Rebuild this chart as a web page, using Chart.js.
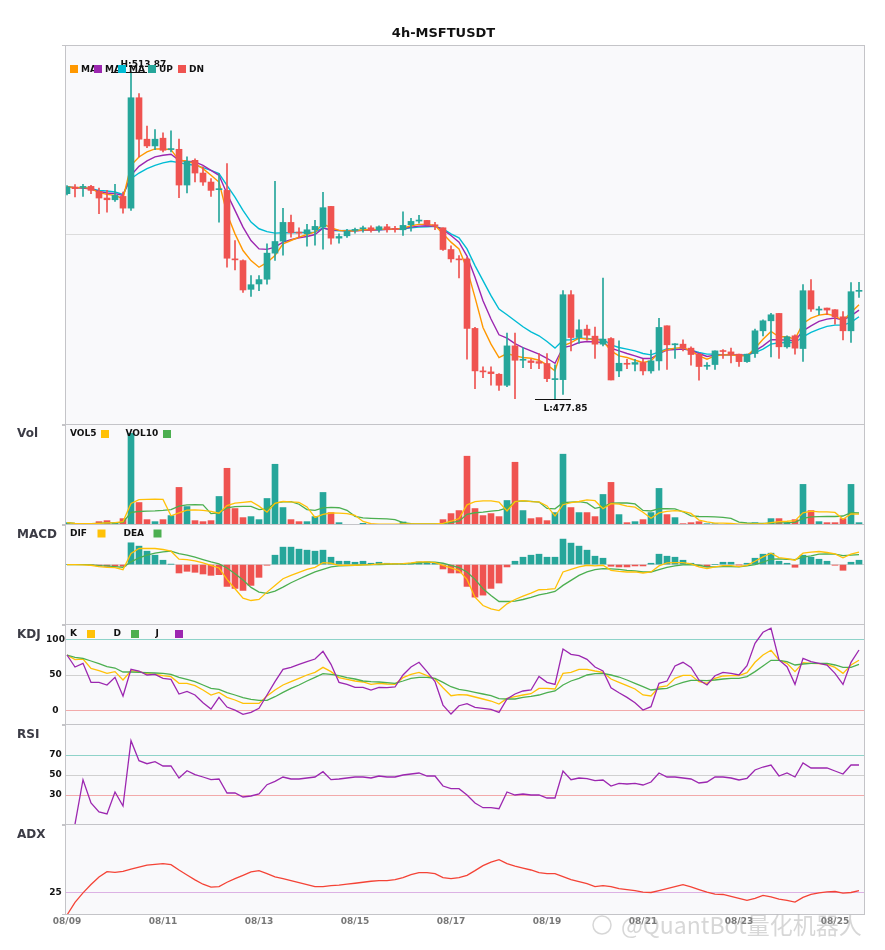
<!DOCTYPE html>
<html><head><meta charset="utf-8">
<script src="https://cdn.jsdelivr.net/npm/chart.js@4.4.1/dist/chart.umd.min.js"></script>
<style>
html,body{margin:0;padding:0;background:#fff;}
#wrap{position:relative;width:885px;height:950px;overflow:hidden;background:#fff;}
#wrap canvas{position:absolute;left:0;}
</style></head><body><div id="wrap"></div>
<script>
// ---------------- DATA ----------------
const xTickIndex = [0,12,24,36,48,60,72,84,96];
const xTickLabels = ['08/09','08/11','08/13','08/15','08/17','08/19','08/21','08/23','08/25'];

const open = [500.46,501.19,501.15,501.26,500.71,499.98,499.79,500.16,498.87,511.01,
506.45,505.71,506.56,505.31,505.34,501.41,504.13,502.73,501.74,500.90,
500.82,493.29,493.10,489.94,490.53,491.05,493.92,495.24,497.30,496.23,
496.05,496.49,496.78,499.06,495.57,495.83,496.42,496.60,496.71,496.49,
496.82,496.60,496.49,497.04,497.45,497.52,497.04,496.71,494.32,493.29,
493.28,485.64,480.97,480.86,480.60,479.39,483.72,482.14,482.07,481.99,
481.78,480.01,480.01,489.35,484.64,485.56,484.79,483.91,484.53,480.97,
481.81,481.70,481.89,480.97,482.07,485.93,483.84,483.91,483.47,482.81,
481.48,481.67,483.21,483.06,482.81,481.99,482.88,485.38,486.48,487.29,
483.62,484.83,483.43,489.79,487.66,487.88,487.70,486.92,485.38,489.72];
const high = [501.34,501.45,501.48,501.37,501.08,500.82,501.48,500.64,513.87,511.48,
507.88,507.51,507.15,507.37,506.45,504.50,504.28,503.40,502.11,502.66,
503.76,495.31,493.18,491.45,491.45,494.95,501.82,498.84,498.11,496.71,
497.08,497.52,500.61,499.06,496.05,496.53,496.67,496.89,496.93,496.93,
497.08,496.86,498.47,497.74,498.07,497.52,497.30,496.71,494.73,493.66,
493.47,485.75,481.41,481.41,480.67,485.12,485.12,483.54,482.25,482.88,
482.88,481.63,489.79,489.79,486.59,486.00,485.78,491.19,484.64,484.27,
482.25,482.25,482.25,483.25,486.74,485.93,483.98,484.39,483.62,482.88,
481.89,483.17,483.32,483.47,482.81,482.81,485.56,486.59,487.29,487.29,
484.83,484.94,490.45,491.00,488.03,487.88,487.70,487.48,490.67,490.71];
const low = [500.31,500.09,500.16,500.46,498.25,498.43,499.61,498.32,498.62,504.50,
505.53,505.31,505.05,505.05,500.01,500.53,501.74,501.37,500.16,497.33,
492.37,492.07,489.61,489.17,489.79,490.50,493.11,493.70,495.68,495.61,
494.69,494.80,494.36,494.91,495.02,495.64,496.12,496.23,496.23,496.23,
496.23,496.23,495.86,496.34,497.22,496.97,496.49,494.21,492.92,491.20,
482.25,479.02,480.23,479.39,478.83,479.24,477.92,481.33,481.22,481.22,
479.79,477.85,478.39,483.17,483.98,484.35,482.33,483.72,479.97,480.34,
481.22,480.97,480.53,480.71,481.04,481.12,482.33,483.17,481.59,479.94,
481.12,481.12,482.33,481.85,481.45,481.89,482.44,484.83,482.51,482.33,
483.47,482.81,482.00,487.51,487.14,487.14,486.11,484.39,484.09,489.06];
const close = [501.19,501.01,501.19,500.82,499.98,499.79,500.27,498.87,511.01,506.45,
505.71,506.45,505.23,505.42,501.41,504.02,502.73,501.74,500.82,500.97,
493.36,493.18,489.87,490.45,491.01,493.92,495.20,497.30,496.16,496.12,
496.49,496.86,498.92,495.57,495.75,496.31,496.49,496.71,496.42,496.82,
496.49,496.53,496.97,497.41,497.52,497.04,496.89,494.32,493.29,493.18,
485.64,480.97,480.86,480.67,479.39,483.72,482.14,482.25,481.89,481.81,
480.12,480.12,489.35,484.64,485.49,484.90,483.91,484.46,479.97,481.81,
481.70,481.89,480.97,482.07,485.75,483.84,483.91,483.47,482.77,481.45,
481.59,483.17,483.10,482.77,481.99,482.81,485.38,486.48,487.14,483.62,
484.72,483.47,489.79,487.77,487.77,487.66,486.92,485.38,489.68,489.79];

const ma1 = [501.19,501.12,501.15,501.01,500.57,500.38,500.27,499.90,503.58,504.50,
505.05,505.38,505.38,505.31,504.13,504.02,503.76,503.21,502.48,501.74,
498.25,496.04,494.21,493.10,492.37,492.90,493.66,494.95,495.31,495.68,
495.97,496.23,497.15,496.71,496.42,496.34,496.38,496.49,496.49,496.53,
496.56,496.56,496.67,496.93,497.08,497.08,496.97,496.05,495.13,494.39,
492.20,489.05,485.75,483.91,482.44,482.88,482.62,482.44,482.36,482.14,
481.63,480.97,483.72,484.09,484.57,484.46,484.46,484.27,483.17,482.62,
482.44,482.14,481.89,482.07,482.99,483.30,483.47,483.54,483.17,482.62,
482.26,482.62,482.73,482.73,482.62,482.62,483.47,484.46,485.31,484.72,
484.72,484.46,486.19,486.78,487.11,487.22,487.03,486.48,487.40,488.25];
const ma2 = [501.19,501.12,501.08,500.97,500.71,500.53,500.46,500.27,502.48,503.47,
504.06,504.50,504.68,504.79,504.13,504.02,503.95,503.58,503.03,502.48,
500.46,498.62,496.78,495.31,494.39,494.33,494.58,495.13,495.39,495.61,
495.75,495.97,496.67,496.49,496.42,496.34,496.34,496.42,496.42,496.49,
496.53,496.56,496.60,496.78,496.89,496.93,496.89,496.49,495.86,495.13,
493.60,491.26,488.69,486.67,484.94,484.57,483.98,483.54,483.17,482.81,
482.36,481.81,483.54,483.72,484.09,484.20,484.16,484.09,483.47,483.17,
482.88,482.62,482.33,482.33,482.88,483.25,483.32,483.36,483.25,482.88,
482.55,482.70,482.73,482.73,482.70,482.70,483.17,483.73,484.39,484.39,
484.35,484.28,485.38,485.93,486.41,486.67,486.78,486.56,487.03,487.66];
const ma3 = [501.19,501.12,501.08,501.01,500.82,500.75,500.64,500.38,502.11,502.73,
503.21,503.58,503.84,504.02,503.87,503.69,503.58,503.32,503.03,502.66,
501.37,500.09,498.62,497.33,496.60,496.28,496.12,496.16,496.16,496.19,
496.19,496.23,496.71,496.42,496.38,496.42,496.42,496.45,496.49,496.49,
496.53,496.56,496.60,496.71,496.78,496.82,496.86,496.60,496.05,495.61,
494.39,492.55,490.89,489.24,487.77,487.14,486.48,485.82,485.27,484.83,
484.20,483.47,484.35,484.39,484.57,484.53,484.46,484.42,483.83,483.54,
483.36,483.17,482.88,482.73,483.06,483.40,483.36,483.36,483.25,482.99,
482.81,482.81,482.73,482.73,482.70,482.70,482.99,483.36,483.91,484.06,
484.09,484.09,484.72,485.20,485.56,485.86,486.00,486.00,486.30,486.92];

const volume = [7,3,2,3,10,13,6,19,273,67,
16,10,16,28,112,55,13,10,13,85,
169,49,22,25,16,79,181,52,16,10,
10,25,97,37,7,2,2,5,3,2,
2,2,9,3,2,2,2,16,34,43,
205,49,28,34,25,73,187,43,19,22,
13,37,211,52,37,37,25,91,127,31,
7,10,16,37,109,31,22,4,7,10,
4,4,2,2,2,2,7,4,19,19,
7,16,121,43,10,7,7,19,121,7];
const vol5 = [7,5,4,3.8,5,6.2,6.8,10.2,64.2,75.6,
76.2,77,76.4,27.4,36.4,44.2,44.8,43.6,40.6,35.2,
58,65.2,67.6,70,56.2,38.2,64.6,70.6,68.8,67.6,
53.8,22.6,31.6,35.8,35.2,33.6,29,10.6,3.8,2.8,
2.8,2.8,3.6,3.6,3.6,3.6,3.6,5,11.2,19.4,
60,69.4,71.8,71.8,68.2,41.8,69.4,72.4,69.4,68.8,
56.8,26.8,60.4,67,70,74.8,72.4,48.4,63.4,62.2,
56.2,53.2,38.2,20.2,35.8,40.6,43,40.6,34.6,14.8,
9.4,5.8,5.4,4.4,2.8,2.4,3,3.4,6.8,10.2,
11.2,13,36.4,41.2,39.4,39.4,37.6,17.2,32.8,32.2];
const vol10 = [7,5,4,3.8,5,6.3,6.3,7.9,37.3,40.3,
41.2,41.9,43.3,45.8,56,60.2,60.9,60,34,35.8,
51.1,55,55.6,55.3,45.7,48.1,64.9,69.1,69.4,61.9,
46,43.6,51.1,52.3,51.4,43.7,25.8,21.1,19.8,19,
18.2,15.9,7.1,3.7,3.2,3.2,3.2,4.3,7.4,11.5,
31.8,36.5,38.4,41.5,43.8,50.9,69.4,72.1,70.6,68.5,
49.3,48.1,66.4,68.2,69.4,65.8,49.6,54.4,65.2,66.1,
65.5,62.8,43.3,41.8,49,48.4,48.1,39.4,27.4,25.3,
25,24.4,23,19.5,8.8,5.9,4.4,4.4,5.6,6.5,
6.8,8,19.9,24,24.8,25.3,25.3,26.8,37,35.8];

const macdHist = [0,0,0,-1,-4,-5,-5,-5,65,55,
40,28,13,1,-25,-20,-23,-28,-32,-30,
-65,-71,-77,-62,-38,-2,28,52,52,46,
43,40,43,22,10,10,7,10,4,7,
4,3,3,4,8,8,5,-13,-25,-25,
-65,-97,-91,-71,-55,-7,10,22,28,31,
22,22,76,64,55,43,25,19,-5,-7,
-7,-4,-4,4,31,25,22,13,4,-4,
-7,0,7,7,-1,4,19,31,34,10,
4,-8,28,22,16,10,-2,-17,7,13];
const dif = [0,0,-1,-2,-6,-8,-9,-15,33,48,
48,48,45,40,16,15,11,5,-2,-10,
-44,-72,-100,-107,-104,-82,-62,-42,-32,-23,
-14,-8,6,4,-2,-2,-2,-1,0,2,
2,2,3,5,8,8,6,-2,-10,-18,
-44,-97,-122,-132,-137,-117,-104,-94,-85,-75,
-74,-72,-22,-14,-7,-2,-4,-2,-17,-20,
-22,-22,-25,-22,-4,5,6,6,2,-7,
-12,-7,-3,-3,-6,-2,10,23,34,21,
18,13,34,37,39,36,32,20,31,37];
const dea = [0,0,0,-1,-3,-4,-6,-8,8,20,
28,34,38,40,33,28,22,15,8,2,
-10,-27,-46,-68,-82,-86,-79,-67,-54,-43,
-32,-22,-14,-7,-4,-3,-2,-1,0,0,
1,2,2,3,5,7,7,4,-2,-9,
-22,-44,-72,-92,-110,-110,-109,-104,-98,-90,
-86,-80,-62,-47,-32,-22,-15,-12,-13,-14,
-17,-19,-22,-22,-15,-8,-4,-1,0,-2,
-7,-7,-6,-6,-7,-4,0,7,16,17,
16,15,22,26,31,32,31,27,28,30];

const kLine = [78,71.5,72.4,59.3,56,52.3,54.7,43,56,54.7,
51.9,50.9,49,47.7,38.3,38.3,35,29,22,25.7,
18.7,15,10.3,10.3,10.3,20.6,29,36,40.7,45.3,
50,53.7,60.7,54.7,46.3,43.9,41.6,40.2,36.9,38.3,
37.4,36.9,46.3,50.9,53.7,49,44.4,32.2,21,22.4,
22,19.2,16.4,13.6,9.3,17.3,19.6,22,23.8,31.3,
31.3,30.4,52.3,53.7,57.9,57.9,55.6,53.7,44.4,39.7,
35,30.4,22,20.6,33.2,34.6,45.3,49.5,49.5,40.7,
38.3,45.3,48.6,49,49,53.3,67.8,78,84.6,71,
66.4,54.7,67.3,66.4,65.9,65,60.7,52.3,64,70.6];
const dLine = [78,74.8,73.4,69.6,65.9,61.7,59.8,54.2,54.2,53.7,
53.3,52.8,52.3,50.9,46.7,43.9,40.7,36,31.3,29.9,
25.2,22,18.2,15.9,14.5,14.5,19.6,25.7,31.3,36,
41.6,46.7,51.9,50.9,49,46.3,44.4,41.6,40.7,40.2,
39.3,38.3,41.6,45.3,46.7,46.7,45.3,39.7,33.6,29.9,
28,25.7,23.4,21,16.8,16.4,16.4,18.7,20.1,22,
25.2,27.6,36,41.6,45.3,50,51.9,52.3,50,47.2,
43,38.3,33.6,29,30.4,31.3,36,39.7,42.5,42.5,
42.1,43,44.4,45.3,45.3,47.7,54.7,62.6,70.6,70.6,
68.7,64,65.4,66.4,66.4,66.4,64,60.7,60.7,65];
const jLine = [78,61.2,66.4,39.7,39.7,36,46.7,20.6,57.9,55.6,
50,50.9,45.3,43.9,23.4,27.1,22,11.2,2.3,18.7,
5.1,0.9,-5.1,-2.3,3.3,22,40.7,57.9,60.7,65,
68.7,72.4,83.2,65,39.7,36.9,32.7,32.7,29,32.7,
32.2,33.2,50,61.2,67.8,54.7,40.7,7.9,-4.7,7,
9.8,4.7,3.3,1.9,-2.3,16.4,23.4,27.6,29,48.1,
39.7,36.9,86.4,79,77.1,72,61.2,55.6,32.2,25.2,
18.7,11.2,0.9,5.6,38.3,41.6,62.6,67.8,60.7,43,
36,49,53.7,52.3,50,63.1,94.4,109.8,115.4,71,
61.7,36.9,73.4,68.7,66.4,64,52.3,36.9,67.8,85];

const rsi = [null,0.9,45.3,22,13,11,33,19,84.3,64.3,
61.3,63.3,59,59,47,54.3,50.3,48,45.3,46,
32,32,28,29,31,40.3,43.7,48,46,46,
47,48,53.3,45.3,46,47,48,48,47,49,
48,48,50,51,52,49,49,39,36.3,36.3,
30,22,17.3,17.3,16.3,33,30,31,30,30,
27,27,54,45.3,47,46.3,44.3,45,39,41.7,
41,41.7,40,43,52,48,48,47,46,42,
43,48,48,47,45,46.7,55,58,60,49,
52,48,62,57,57,57,54,51,60,60];

const adx = [0,14,24.6,33.8,42.3,48.2,47.4,48.5,51.1,53.3,
55.5,56.3,57,55.9,50,44.5,39,34.2,30.9,31.6,
36.4,40.4,44.1,47.8,49.3,46,42.3,40.4,38.2,36,
33.8,31.6,31.6,32.7,33.1,34.2,35.3,36.4,37.5,38.2,
38.2,39.3,41.5,44.9,47.1,47.1,46,41.5,40.4,41.5,
44.1,49.3,54.8,58.8,61.4,57,54.4,52.2,50,47.1,
46,46,42.6,39.3,37.1,34.9,31.6,32.7,31.6,29.4,
28.3,27.2,25.4,25,27.2,29.4,31.6,33.8,31.3,28.3,
25.4,23.2,22.8,20.6,18.4,16.2,18.4,21.7,20.2,17.6,
16.2,14.3,19.5,22.8,24.6,25.7,26.1,24.3,25,27.2];

// ---------------- STYLE / LAYOUT ----------------
const FONT = '"DejaVu Sans", "Noto Sans", sans-serif';
const UP = '#26a69a', DN = '#ef5350';
const C_ORANGE='#ff9800', C_PURPLE='#9c27b0', C_CYAN='#00bcd4', C_YEL='#ffc107', C_GRN='#4caf50', C_RED='#f44336';
const PLOT_L = 65, PLOT_R = 865, W = 885;
const BG = '#f9f9fb', BORDER = '#c4c4c8';
const wrap = document.getElementById('wrap');

const pts = arr => arr.map((v, i) => ({x: i, y: v}));
const rng = (a, b) => a.map((v, i) => ({x: i, y: [v, b[i]]}));
const isUp = i => close[i] >= open[i];

function lineDS(data, color, order, width) {
  return {type: 'line', data: pts(data), borderColor: color, borderWidth: width || 1.3,
    pointRadius: 0, tension: 0, order: order, fill: false, spanGaps: false};
}

function txt(ctx, s, x, y, font, color, align) {
  ctx.save();
  ctx.font = font; ctx.fillStyle = color; ctx.textAlign = align || 'left'; ctx.textBaseline = 'middle';
  ctx.fillText(s, x, y);
  ctx.restore();
}
function box(ctx, x, y, color) { ctx.fillStyle = color; ctx.fillRect(x, y, 8, 8); }

function panel(o) {
  const c = document.createElement('canvas');
  const h = o.cBottom - o.cTop;
  c.width = W; c.height = h;
  c.style.top = o.cTop + 'px'; c.style.width = W + 'px'; c.style.height = h + 'px';
  wrap.appendChild(c);
  const off = o.cTop;
  const deco = {
    id: 'deco' ,
    beforeDraw(ch) {
      const a = ch.chartArea, ctx = ch.ctx;
      ctx.save(); ctx.fillStyle = BG; ctx.fillRect(a.left, a.top, a.right - a.left, a.bottom - a.top); ctx.restore();
    },
    afterDraw(ch) {
      const a = ch.chartArea, ctx = ch.ctx;
      ctx.save(); ctx.strokeStyle = BORDER; ctx.lineWidth = 1;
      ctx.beginPath();
      if (o.drawTop) { ctx.moveTo(a.left, a.top + 0.5); ctx.lineTo(a.right, a.top + 0.5); }
      ctx.moveTo(a.left + 0.5, a.top); ctx.lineTo(a.left + 0.5, a.bottom);
      ctx.moveTo(a.right - 0.5, a.top); ctx.lineTo(a.right - 0.5, a.bottom);
      ctx.moveTo(a.left, a.bottom - 0.5); ctx.lineTo(a.right, a.bottom - 0.5);
      ctx.stroke();
      ctx.beginPath();
      ctx.moveTo(a.left - 3, a.top + 0.5); ctx.lineTo(a.left, a.top + 0.5);
      ctx.moveTo(a.left - 3, a.bottom - 0.5); ctx.lineTo(a.left, a.bottom - 0.5);
      ctx.stroke();
      ctx.restore();
      if (o.label) txt(ctx, o.label, 17, o.labelY - off, 'bold 12px ' + FONT, '#3b3b45');
      if (o.yLabels) {
        const ys = ch.scales.y;
        o.yLabels.forEach(v => txt(ctx, String(v), 55.5, ys.getPixelForValue(v), 'bold 9px ' + FONT, '#111', 'center'));
      }
      if (o.extra) o.extra(ch, ctx, off);
    }
  };
  const gridVals = o.gridVals || [];
  new Chart(c, {
    type: 'bar',
    data: {datasets: o.datasets},
    options: {
      responsive: false, animation: false, devicePixelRatio: 1,
      events: [],
      layout: {padding: {left: 0, right: W - PLOT_R, top: o.top - o.cTop, bottom: o.xAxis ? 0 : o.cBottom - o.bottom}},
      plugins: {legend: {display: false}, tooltip: {enabled: false}, title: {display: false}},
      scales: {
        x: {
          type: 'linear', min: -0.25, max: 99.75, offset: false, display: !!o.xAxis,
          grid: {display: false, drawTicks: false}, border: {display: false},
          afterBuildTicks: s => { s.ticks = xTickIndex.map(v => ({value: v})); },
          afterFit: s => { s.height = o.xAxis ? (o.cBottom - o.bottom) : 0; },
          ticks: {autoSkip: false, maxRotation: 0, padding: 1, color: '#777',
            font: {family: FONT, size: 9, weight: 'bold'},
            callback: v => { const k = xTickIndex.indexOf(v); return k >= 0 ? xTickLabels[k] : ''; }}
        },
        y: {
          type: 'linear', min: o.yMin, max: o.yMax, position: 'left', offset: false,
          afterFit: s => { s.width = PLOT_L; },
          afterBuildTicks: s => { s.ticks = gridVals.map(v => ({value: v})); },
          ticks: {display: false},
          grid: {display: gridVals.length > 0, drawTicks: false, lineWidth: 1,
            color: ctx => (o.gridColors && ctx.tick ? (o.gridColors[ctx.tick.value] || '#d6d6d6') : '#d6d6d6')},
          border: {display: false}
        }
      }
    },
    plugins: [deco]
  });
}

// ---------------- MAIN (candles) ----------------
const hiIdx = high.indexOf(Math.max(...high));
const loIdx = low.indexOf(Math.min(...low));
panel({
  cTop: 0, cBottom: 430, top: 45, bottom: 425, drawTop: true,
  yMin: 475.02, yMax: 516.81, gridVals: [495.915], gridColors: {495.915: '#dcdcdc'},
  datasets: [
    {label: 'wick', data: rng(low, high), grouped: false, barThickness: 1, order: 1,
      backgroundColor: ctx => isUp(ctx.dataIndex) ? UP : DN, borderWidth: 0},
    {label: 'body', data: rng(open, close), grouped: false, barThickness: 6, minBarLength: 1, order: 0,
      backgroundColor: ctx => isUp(ctx.dataIndex) ? UP : DN, borderWidth: 0},
    lineDS(ma1, C_ORANGE, 2, 1.4), lineDS(ma2, C_PURPLE, 3, 1.4), lineDS(ma3, C_CYAN, 4, 1.4)
  ],
  extra: (ch, ctx) => {
    const xs = ch.scales.x, ys = ch.scales.y;
    txt(ctx, '4h-MSFTUSDT', 443.5, 34, 'bold 13px ' + FONT, '#111', 'center');
    const hx = xs.getPixelForValue(hiIdx), hy = ys.getPixelForValue(high[hiIdx]);
    const lx = xs.getPixelForValue(loIdx), ly = ys.getPixelForValue(low[loIdx]);
    ctx.save(); ctx.strokeStyle = '#111'; ctx.lineWidth = 1; ctx.beginPath();
    ctx.moveTo(hx - 20, Math.round(hy) + 0.5); ctx.lineTo(hx + 16, Math.round(hy) + 0.5);
    ctx.moveTo(lx - 20, Math.round(ly) + 0.5); ctx.lineTo(lx + 16, Math.round(ly) + 0.5);
    ctx.stroke(); ctx.restore();
    txt(ctx, 'H:' + high[hiIdx].toFixed(2), hx - 10.5, hy - 7, 'bold 9px ' + FONT, '#111');
    txt(ctx, 'L:' + low[loIdx].toFixed(2), lx - 11.5, ly + 9, 'bold 9px ' + FONT, '#111');
    const f = 'bold 9px ' + FONT;
    const items = [[70, C_ORANGE, 'MA'], [94, C_PURPLE, 'MA'], [118, C_CYAN, 'MA'], [148, UP, 'UP'], [178, DN, 'DN']];
    items.forEach(([x, col, s]) => { box(ctx, x, 65, col); txt(ctx, s, x + 11, 69.5, f, '#111'); });
  }
});

// ---------------- VOLUME ----------------
panel({
  cTop: 410, cBottom: 530, top: 425, bottom: 525, label: 'Vol', labelY: 434,
  yMin: 0, yMax: 298,
  datasets: [
    {data: pts(volume), grouped: false, barThickness: 6, order: 3, borderWidth: 0,
      backgroundColor: ctx => isUp(ctx.dataIndex) ? UP : DN},
    lineDS(vol5, C_YEL, 1, 1.3), lineDS(vol10, C_GRN, 2, 1.3)
  ],
  extra: (ch, ctx, off) => {
    const f = 'bold 9px ' + FONT;
    txt(ctx, 'VOL5', 70, 434 - off, f, '#111'); box(ctx, 101, 430 - off, C_YEL);
    txt(ctx, 'VOL10', 125.5, 434 - off, f, '#111'); box(ctx, 163, 430 - off, C_GRN);
  }
});

// ---------------- MACD ----------------
panel({
  cTop: 510, cBottom: 630, top: 525, bottom: 625, label: 'MACD', labelY: 535,
  yMin: -180, yMax: 118, gridVals: [0], gridColors: {0: '#d6d6d6'},
  datasets: [
    {data: pts(macdHist), grouped: false, barThickness: 6, order: 3, borderWidth: 0,
      backgroundColor: ctx => macdHist[ctx.dataIndex] >= 0 ? UP : DN},
    lineDS(dif, C_YEL, 1, 1.3), lineDS(dea, C_GRN, 2, 1.3)
  ],
  extra: (ch, ctx, off) => {
    const f = 'bold 9px ' + FONT;
    txt(ctx, 'DIF', 70, 533.5 - off, f, '#111'); box(ctx, 97.5, 529.5 - off, C_YEL);
    txt(ctx, 'DEA', 123.5, 533.5 - off, f, '#111'); box(ctx, 153.5, 529.5 - off, C_GRN);
  }
});

// ---------------- KDJ ----------------
panel({
  cTop: 610, cBottom: 730, top: 625, bottom: 725, label: 'KDJ', labelY: 635,
  yMin: -20, yMax: 120, gridVals: [0, 50, 100], gridColors: {0: '#f2aaaa', 50: '#d0d0d0', 100: '#8fd3c9'},
  yLabels: [100, 50, 0],
  datasets: [lineDS(kLine, C_YEL, 3), lineDS(dLine, C_GRN, 2), lineDS(jLine, C_PURPLE, 1)],
  extra: (ch, ctx, off) => {
    const f = 'bold 9px ' + FONT;
    txt(ctx, 'K', 70, 634 - off, f, '#111'); box(ctx, 87, 630 - off, C_YEL);
    txt(ctx, 'D', 113.5, 634 - off, f, '#111'); box(ctx, 131, 630 - off, C_GRN);
    txt(ctx, 'J', 155.5, 634 - off, f, '#111'); box(ctx, 175, 630 - off, C_PURPLE);
  }
});

// ---------------- RSI ----------------
panel({
  cTop: 710, cBottom: 830, top: 725, bottom: 825, label: 'RSI', labelY: 735,
  yMin: 0, yMax: 100, gridVals: [30, 50, 70], gridColors: {30: '#f2aaaa', 50: '#d0d0d0', 70: '#8fd3c9'},
  yLabels: [70, 50, 30],
  datasets: [lineDS(rsi, C_PURPLE, 1)]
});

// ---------------- ADX ----------------
panel({
  cTop: 810, cBottom: 950, top: 825, bottom: 915, label: 'ADX', labelY: 835, xAxis: true,
  yMin: 0, yMax: 100, gridVals: [25], gridColors: {25: '#dcb2e4'},
  yLabels: [25],
  datasets: [lineDS(adx, C_RED, 1)],
  extra: (ch, ctx, off) => {
    ctx.save();
    ctx.globalAlpha = 0.4;
    ctx.strokeStyle = '#9a9a9a'; ctx.lineWidth = 1.5;
    ctx.beginPath(); ctx.arc(602, 925 - off, 9, 0, Math.PI * 2); ctx.stroke();
    ctx.restore();
    ctx.save(); ctx.globalAlpha = 0.4;
    txt(ctx, '@QuantBot量化机器人', 621, 925 - off, '23px "Noto Sans CJK SC", ' + FONT, '#9a9a9a');
    ctx.restore();
  }
});
</script></body></html>
